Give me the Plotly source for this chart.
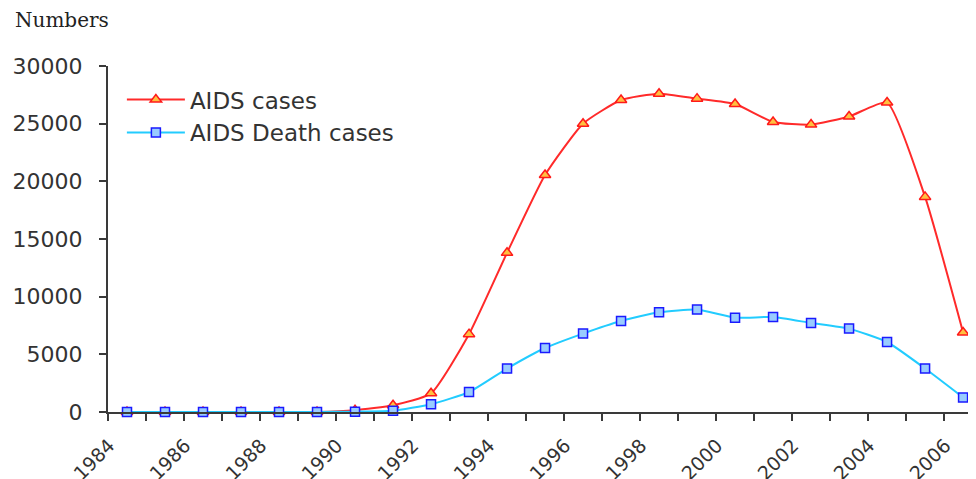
import plotly.graph_objects as go

years = list(range(1984, 2007))
aids_cases = [0, 0, 0, 0, 0, 0, 150, 580, 1620, 6750, 13800, 20550, 25000, 27050, 27600,
              27170, 26700, 25150, 24920, 25620, 26830, 18650, 6900]
aids_deaths = [0, 0, 0, 0, 0, 0, 30, 100, 680, 1730, 3770, 5550, 6800, 7890, 8650,
               8880, 8170, 8240, 7720, 7230, 6070, 3770, 1260]
x_tick_years = list(range(1984, 2007, 2))
y_ticks = [0, 5000, 10000, 15000, 20000, 25000, 30000]

AX = "#3a3a3a"
FONT = "DejaVu Sans"
LABEL_SHIFT = -0.47  # rotated labels sit slightly left of category centre

fig = go.Figure()
fig.add_trace(go.Scatter(
    x=years, y=aids_cases, name="AIDS cases", mode="lines+markers",
    line=dict(color="#ff2a2a", width=2, shape="spline", smoothing=0.5),
    marker=dict(symbol="triangle-up", size=10, color="#ffc040",
                line=dict(color="#ff1a1a", width=1.5)),
    cliponaxis=False,
))
fig.add_trace(go.Scatter(
    x=years, y=aids_deaths, name="AIDS Death cases", mode="lines+markers",
    line=dict(color="#22ccff", width=2, shape="spline", smoothing=0.5),
    marker=dict(symbol="square", size=9, color="#99ccff",
                line=dict(color="#1a1aff", width=1.5)),
    cliponaxis=False,
))

# page body has an 8px margin, so the figure is sized to the visible area
fig.update_layout(
    width=968, height=471,
    margin=dict(l=100, r=0, t=58, b=67),
    paper_bgcolor="white", plot_bgcolor="white",
    font=dict(family=FONT, color="#333333"),
    showlegend=True,
    legend=dict(x=0.016, y=0.965, xanchor="left", yanchor="top",
                bgcolor="rgba(0,0,0,0)", borderwidth=0,
                font=dict(size=23, family=FONT, color="#333333"),
                itemwidth=58, tracegroupgap=0),
    xaxis=dict(
        range=[1983.5, 2006.34],
        automargin=False,
        showline=True, linecolor=AX, linewidth=2,
        showgrid=False, zeroline=False,
        tickmode="array", tickvals=[y + LABEL_SHIFT for y in x_tick_years],
        ticktext=[str(v) for v in x_tick_years],
        ticks="", tickangle=-45, ticklabelstandoff=13,
        tickfont=dict(size=19, family=FONT, color="#333333"),
        minor=dict(tickmode="array",
                   tickvals=[y - 0.5 for y in years] + [years[-1] + 0.5],
                   ticks="outside", ticklen=7, tickwidth=2, tickcolor=AX,
                   showgrid=False),
    ),
    yaxis=dict(
        range=[0, 30000],
        automargin=False,
        showline=True, linecolor=AX, linewidth=2,
        showgrid=False, zeroline=False,
        tickmode="array", tickvals=y_ticks,
        ticktext=[str(v) for v in y_ticks],
        ticks="outside", ticklen=7, tickwidth=2, tickcolor=AX,
        ticklabelstandoff=12,
        tickfont=dict(size=22, family=FONT, color="#333333"),
    ),
    annotations=[dict(
        text="Numbers", xref="paper", yref="paper",
        x=-0.109, y=1.132, xanchor="left", yanchor="middle",
        showarrow=False,
        font=dict(family="DejaVu Serif", size=20, color="#222222"),
    )],
)

fig.write_html("out.html")
